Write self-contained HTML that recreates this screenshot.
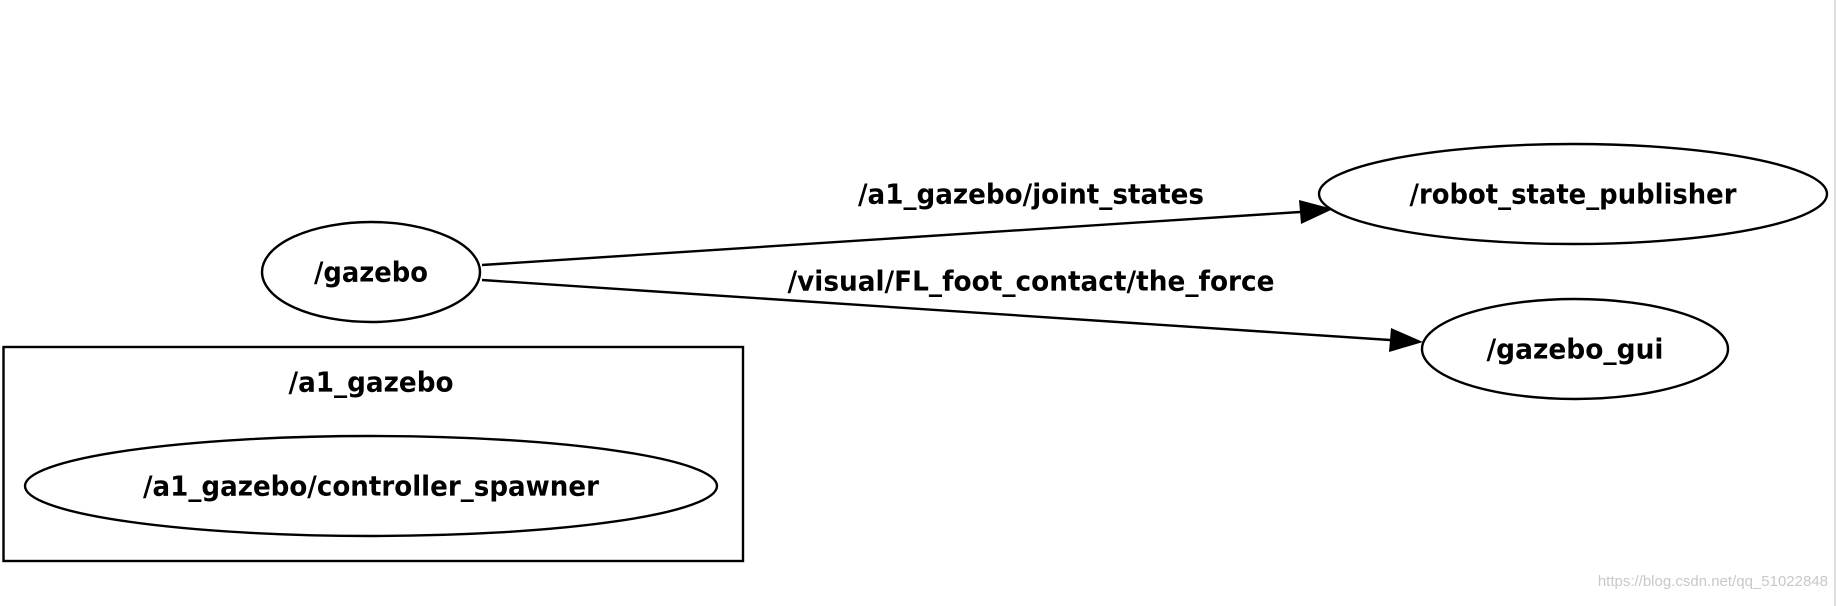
<!DOCTYPE html>
<html><head><meta charset="utf-8"><style>
html,body{margin:0;padding:0;background:#fff;}
svg{display:block;}
text{font-family:"DejaVu Sans","Liberation Sans",sans-serif;font-weight:bold;fill:#000;}
</style></head><body>
<svg width="1837" height="606" viewBox="0 0 1837 606" xmlns="http://www.w3.org/2000/svg">
<rect x="0" y="0" width="1837" height="606" fill="#fff"/>
<line x1="1835" y1="0" x2="1835" y2="606" stroke="#ddd" stroke-width="2"/>
<g fill="none" stroke="#000" stroke-width="2.4">
<ellipse cx="371" cy="272" rx="109" ry="50"/>
<ellipse cx="1573" cy="194" rx="254" ry="50"/>
<ellipse cx="1575" cy="349" rx="153" ry="50"/>
<rect x="3.5" y="347" width="739.5" height="214"/>
<ellipse cx="371" cy="486" rx="346" ry="50"/>
<line x1="482" y1="265" x2="1300" y2="212"/>
<line x1="482" y1="280" x2="1390" y2="340"/>
</g>
<polygon points="1333,209 1299,200 1301,224" fill="#000"/>
<polygon points="1423,342 1391,328 1389,352" fill="#000"/>
<g font-size="28" text-anchor="middle" dominant-baseline="central">
<text x="371" y="272" textLength="114" lengthAdjust="spacingAndGlyphs">/gazebo</text>
<text x="1573" y="194" textLength="327" lengthAdjust="spacingAndGlyphs">/robot_state_publisher</text>
<text x="1575" y="349" textLength="177" lengthAdjust="spacingAndGlyphs">/gazebo_gui</text>
<text x="371" y="382" textLength="165" lengthAdjust="spacingAndGlyphs">/a1_gazebo</text>
<text x="371" y="486" textLength="456" lengthAdjust="spacingAndGlyphs">/a1_gazebo/controller_spawner</text>
<text x="1031" y="194" textLength="346" lengthAdjust="spacingAndGlyphs">/a1_gazebo/joint_states</text>
<text x="1031" y="281" textLength="487" lengthAdjust="spacingAndGlyphs">/visual/FL_foot_contact/the_force</text>
</g>
<text x="1828" y="586" font-size="15" text-anchor="end" style="font-weight:normal;fill:#c8c8c8;font-family:'Liberation Sans',sans-serif">https://blog.csdn.net/qq_51022848</text>
</svg>
</body></html>
